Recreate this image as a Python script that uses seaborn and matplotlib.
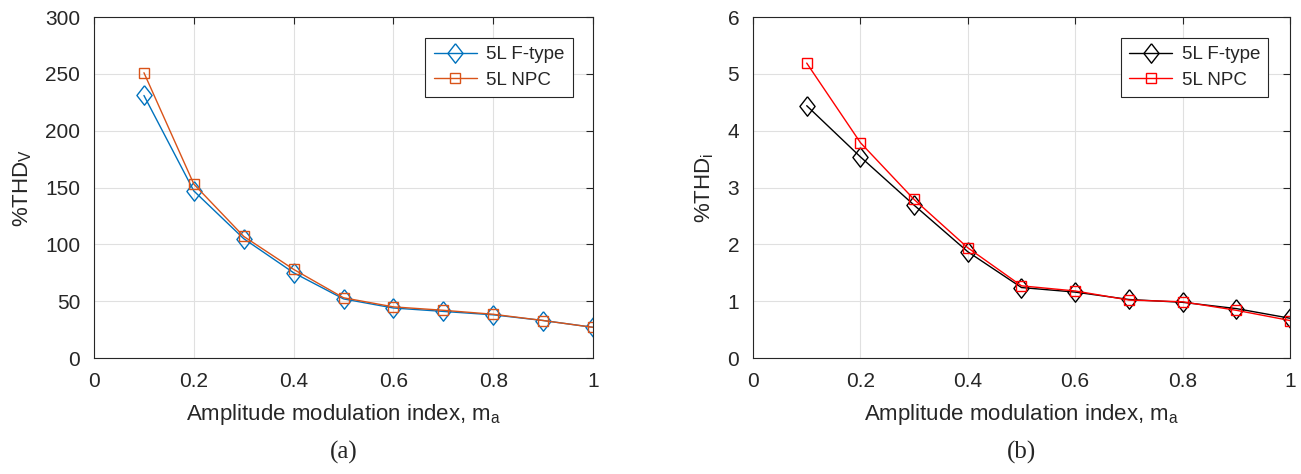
import matplotlib
matplotlib.use("Agg")
import matplotlib.pyplot as plt
import seaborn as sns

# ---- data ----
ma = [0.1, 0.2, 0.3, 0.4, 0.5, 0.6, 0.7, 0.8, 0.9, 1.0]
thdv_ftype = [231, 147, 105, 75, 52, 44, 41, 38, 33, 27]
thdv_npc = [251, 153, 107, 78, 53, 45, 42, 38.5, 33, 27]
thdi_ftype = [4.44, 3.54, 2.69, 1.87, 1.24, 1.16, 1.03, 0.98, 0.87, 0.70]
thdi_npc = [5.19, 3.79, 2.79, 1.94, 1.27, 1.18, 1.02, 0.99, 0.84, 0.66]

xticks = [0, 0.2, 0.4, 0.6, 0.8, 1]
xticklabels = ["0", "0.2", "0.4", "0.6", "0.8", "1"]

sns.set_style("white")
plt.rcParams["font.family"] = ["Liberation Sans", "DejaVu Sans"]

# matlab-like diamond (a bit taller than wide)
diamond = [(0, 1), (0.78, 0), (0, -1), (-0.78, 0), (0, 1)]

fig = plt.figure(figsize=(13.01, 4.74), dpi=100)
ax1 = fig.add_axes([0.0723, 0.2447, 0.3835, 0.7193])
ax2 = fig.add_axes([0.5788, 0.2447, 0.4127, 0.7193])


def draw(ax, y1, y2, c1, c2, ylabel, ylim, yticks):
    sns.lineplot(x=ma, y=y1, ax=ax, color=c1, marker=diamond, markersize=14,
                 markerfacecolor="none", markeredgecolor=c1, markeredgewidth=1,
                 linewidth=1, label="5L F-type")
    sns.lineplot(x=ma, y=y2, ax=ax, color=c2, marker="s", markersize=7.5,
                 markerfacecolor="none", markeredgecolor=c2, markeredgewidth=1,
                 linewidth=1, label="5L NPC")
    ax.set_xlim(0, 1)
    ax.set_ylim(*ylim)
    ax.set_xticks(xticks)
    ax.set_xticklabels(xticklabels)
    ax.set_yticks(yticks)
    ax.grid(True, color="#e0e0e0", linewidth=0.8)
    ax.tick_params(direction="in", top=True, right=True, length=5,
                   labelsize=15, colors="#262626", pad=10)
    for s in ax.spines.values():
        s.set_color("#262626")
        s.set_linewidth(0.8)
    ax.set_xlabel("Amplitude modulation index, m$_\\mathregular{a}$", fontsize=16, labelpad=8)
    ax.set_ylabel(ylabel, fontsize=16, labelpad=8)
    leg = ax.legend(loc="upper right", bbox_to_anchor=(0.96, 0.94), fontsize=13.5,
                    fancybox=False, framealpha=1, edgecolor="#262626",
                    handlelength=2.3, handletextpad=0.5, borderpad=0.45,
                    labelspacing=0.45, borderaxespad=0)
    leg.get_frame().set_linewidth(0.8)


draw(ax1, thdv_ftype, thdv_npc, "#0072BD", "#D95319",
     "%THD$_\\mathregular{V}$", (0, 300), [0, 50, 100, 150, 200, 250, 300])
draw(ax2, thdi_ftype, thdi_npc, "black", "red",
     "%THD$_\\mathregular{i}$", (0, 6), [0, 1, 2, 3, 4, 5, 6])

fig.text(0.2645, 0.033, "(a)", family="Liberation Serif", fontsize=18, ha="center")
fig.text(0.785, 0.033, "(b)", family="Liberation Serif", fontsize=18, ha="center")

fig.savefig("out.png", dpi=100)
